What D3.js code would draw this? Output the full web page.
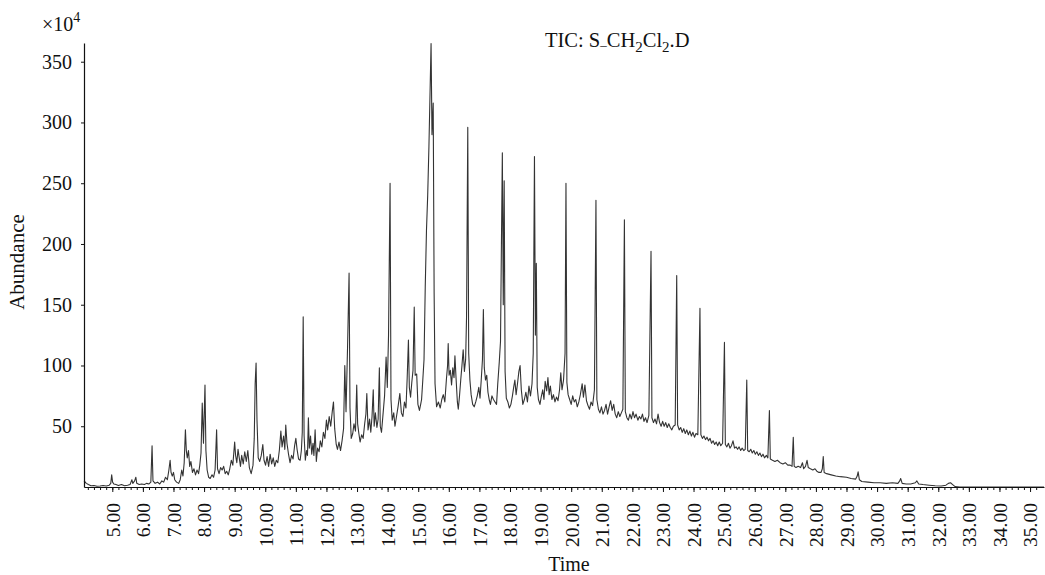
<!DOCTYPE html>
<html>
<head>
<meta charset="utf-8">
<script src="https://cdn.jsdelivr.net/npm/d3@7"></script>
<style>
  html, body { margin: 0; padding: 0; background: #fff; }
  svg { display: block; }
  text { font-family: "Liberation Serif", "Times New Roman", serif; fill: #111; }
</style>
</head>
<body>
<svg id="chart" width="1045" height="575"></svg>
<script>
// Total ion chromatogram: retention time (min) vs. abundance (x10^4 counts)
const timeTicks = [5, 6, 7, 8, 9, 10, 11, 12, 13, 14, 15, 16, 17, 18, 19, 20,
                   21, 22, 23, 24, 25, 26, 27, 28, 29, 30, 31, 32, 33, 34, 35];
const abundanceTicks = [50, 100, 150, 200, 250, 300, 350];
const timeDomain = [4.075, 35.456];
const abundanceDomain = [0, 365.4];

// Trace samples, [retention time, abundance]
const traceEarly = [
  [4.075, 5], [4.1, 4.5], [4.15, 3], [4.22, 2], [4.3, 1], [4.4, 1.2], [4.5, 0.6], [4.6, 0.8],
  [4.7, 1.2], [4.8, 0.8], [4.9, 1.5], [4.95, 3], [4.98, 10], [5.01, 4], [5.05, 2.5], [5.12, 2],
  [5.2, 1.2], [5.3, 2], [5.4, 1], [5.5, 1.4], [5.58, 2], [5.64, 6], [5.67, 3], [5.73, 5],
  [5.77, 8], [5.8, 3], [5.88, 2], [5.96, 2.5], [6.05, 2], [6.12, 3], [6.2, 2.5], [6.26, 4],
  [6.3, 34], [6.33, 5], [6.4, 3], [6.48, 4], [6.55, 2.5], [6.62, 5], [6.68, 4], [6.74, 8],
  [6.8, 6], [6.85, 14], [6.89, 22], [6.92, 12], [6.96, 9], [7.0, 12], [7.04, 6], [7.1, 4],
  [7.17, 3], [7.22, 6], [7.27, 14], [7.31, 9], [7.35, 20], [7.39, 47], [7.42, 30], [7.45, 24],
  [7.49, 30], [7.53, 17], [7.57, 21], [7.62, 12], [7.67, 15], [7.72, 10], [7.77, 14], [7.82, 11],
  [7.86, 18], [7.9, 28], [7.94, 69], [7.98, 36], [8.03, 84], [8.06, 30], [8.1, 14], [8.15, 8],
  [8.2, 7], [8.26, 10], [8.31, 8], [8.36, 14], [8.41, 47], [8.44, 15], [8.49, 11], [8.54, 16],
  [8.59, 14], [8.64, 17], [8.69, 11], [8.74, 13], [8.79, 10], [8.84, 15], [8.89, 22], [8.94, 18],
  [9.0, 37], [9.03, 26], [9.07, 20], [9.11, 31], [9.15, 24], [9.19, 17], [9.23, 26], [9.28, 19],
  [9.33, 29], [9.38, 21], [9.43, 30], [9.48, 16], [9.54, 11], [9.6, 18], [9.64, 40], [9.67, 85],
  [9.70, 102], [9.73, 55], [9.77, 24], [9.82, 21], [9.87, 26], [9.92, 35], [9.96, 22]
];

const traceMid = [
  [10.01, 18], [10.06, 25], [10.11, 17], [10.16, 27], [10.21, 19], [10.26, 24], [10.31, 17],
  [10.36, 22], [10.41, 20], [10.46, 30], [10.51, 46], [10.55, 33], [10.6, 42], [10.64, 31],
  [10.67, 51], [10.71, 36], [10.76, 27], [10.81, 20], [10.86, 26], [10.91, 23], [10.96, 34],
  [11.0, 40], [11.04, 31], [11.09, 23], [11.14, 22], [11.18, 30], [11.21, 45], [11.24, 140],
  [11.27, 42], [11.31, 22], [11.35, 30], [11.38, 26], [11.41, 57], [11.44, 32], [11.48, 42],
  [11.52, 27], [11.56, 36], [11.59, 26], [11.63, 47], [11.67, 21], [11.71, 32], [11.76, 29],
  [11.8, 38], [11.85, 33], [11.9, 45], [11.95, 40], [12.0, 55], [12.04, 47], [12.09, 58],
  [12.14, 50], [12.19, 62], [12.23, 70], [12.27, 48], [12.32, 35], [12.36, 31], [12.41, 37],
  [12.46, 30], [12.51, 38], [12.56, 48], [12.6, 100], [12.64, 62], [12.69, 115], [12.74, 176],
  [12.77, 65], [12.81, 40], [12.86, 44], [12.9, 52], [12.95, 46], [12.99, 84], [13.02, 52],
  [13.06, 44], [13.1, 37], [13.15, 43], [13.2, 40], [13.25, 52], [13.29, 60], [13.32, 77],
  [13.36, 47], [13.41, 56], [13.45, 45], [13.49, 58], [13.53, 80], [13.56, 50], [13.6, 61],
  [13.65, 49], [13.69, 56], [13.73, 98], [13.76, 50], [13.8, 45], [13.85, 60], [13.9, 75],
  [13.95, 107], [13.99, 82], [14.03, 125], [14.08, 250], [14.11, 72], [14.15, 55], [14.2, 61],
  [14.24, 50], [14.29, 58], [14.34, 66], [14.4, 77], [14.45, 61], [14.5, 58], [14.55, 70],
  [14.6, 65], [14.64, 90], [14.68, 121], [14.71, 82], [14.75, 74], [14.79, 86], [14.83, 96],
  [14.87, 148], [14.9, 92], [14.95, 93], [14.99, 68]
];

const traceCentre = [
  [15.04, 63], [15.08, 68], [15.11, 72], [15.15, 88], [15.19, 105], [15.23, 165], [15.27, 211],
  [15.31, 240], [15.35, 280], [15.42, 365], [15.45, 290], [15.49, 316], [15.52, 160], [15.55, 85],
  [15.6, 66], [15.66, 70], [15.72, 65], [15.77, 72], [15.82, 76], [15.87, 70], [15.92, 88],
  [15.96, 100], [15.98, 118], [16.01, 92], [16.05, 96], [16.09, 84], [16.13, 98], [16.17, 90],
  [16.2, 108], [16.24, 88], [16.28, 70], [16.31, 64], [16.35, 75], [16.39, 88], [16.43, 100],
  [16.47, 113], [16.51, 95], [16.55, 105], [16.58, 140], [16.62, 296], [16.65, 110], [16.69, 88],
  [16.73, 76], [16.78, 68], [16.83, 66], [16.88, 70], [16.93, 75], [16.98, 82], [17.02, 73],
  [17.06, 88], [17.1, 105], [17.13, 146], [17.16, 98], [17.2, 88], [17.24, 92], [17.28, 78],
  [17.32, 72], [17.36, 68], [17.41, 75], [17.46, 72], [17.51, 70], [17.56, 68], [17.6, 85],
  [17.65, 103], [17.69, 120], [17.72, 200], [17.75, 275], [17.78, 150], [17.81, 252], [17.84, 95],
  [17.88, 73], [17.93, 70], [17.98, 65], [18.03, 68], [18.08, 75], [18.12, 82], [18.16, 88],
  [18.2, 76], [18.25, 86], [18.29, 95], [18.33, 100], [18.37, 80], [18.42, 68], [18.47, 72],
  [18.52, 78], [18.57, 70], [18.62, 83], [18.67, 75], [18.72, 85], [18.76, 110], [18.8, 272],
  [18.83, 125], [18.86, 184], [18.89, 82], [18.93, 72], [18.98, 68], [19.02, 74], [19.07, 80],
  [19.11, 72], [19.15, 87], [19.2, 79], [19.24, 90], [19.28, 76], [19.32, 83], [19.37, 72],
  [19.42, 76], [19.47, 70], [19.52, 74], [19.57, 71], [19.62, 80], [19.66, 94], [19.7, 80],
  [19.75, 88], [19.8, 110], [19.83, 250], [19.86, 86], [19.9, 76], [19.95, 72]
];

const traceLate = [
  [20.0, 68], [20.05, 75], [20.1, 70], [20.15, 72], [20.2, 66], [20.25, 70], [20.3, 76],
  [20.36, 85], [20.4, 74], [20.45, 84], [20.5, 71], [20.55, 67], [20.6, 64], [20.65, 70],
  [20.7, 67], [20.76, 80], [20.81, 236], [20.84, 72], [20.89, 64], [20.94, 61], [20.99, 66],
  [21.04, 60], [21.09, 63], [21.14, 68], [21.19, 60], [21.24, 66], [21.29, 71], [21.34, 63],
  [21.39, 68], [21.44, 60], [21.49, 57], [21.54, 62], [21.59, 58], [21.64, 61], [21.69, 64],
  [21.74, 220], [21.77, 62], [21.82, 57], [21.87, 55], [21.92, 60], [21.97, 56], [22.02, 62],
  [22.07, 57], [22.12, 60], [22.18, 55], [22.23, 58], [22.28, 56], [22.33, 60], [22.38, 54],
  [22.43, 57], [22.48, 53], [22.54, 59], [22.61, 194], [22.64, 57], [22.69, 53], [22.74, 56],
  [22.79, 52], [22.84, 60], [22.89, 53], [22.94, 50], [22.99, 54], [23.04, 50], [23.09, 53],
  [23.14, 49], [23.19, 52], [23.24, 49], [23.29, 47], [23.34, 50], [23.4, 51], [23.45, 174],
  [23.48, 51], [23.53, 47], [23.58, 49], [23.63, 45], [23.68, 48], [23.73, 44], [23.78, 47],
  [23.83, 43], [23.88, 46], [23.93, 42], [23.98, 45], [24.03, 41], [24.08, 44], [24.14, 43],
  [24.21, 147], [24.24, 43], [24.29, 40], [24.34, 42], [24.39, 39], [24.44, 41], [24.49, 38],
  [24.54, 40], [24.59, 36], [24.64, 38], [24.69, 35], [24.74, 37], [24.79, 34], [24.84, 37],
  [24.89, 34], [24.95, 36], [25.01, 119], [25.04, 35], [25.09, 33], [25.14, 36], [25.19, 32],
  [25.24, 34], [25.29, 38], [25.34, 32], [25.39, 33], [25.44, 31], [25.49, 33], [25.54, 30],
  [25.59, 32], [25.64, 30], [25.69, 31], [25.74, 88], [25.77, 30], [25.82, 29], [25.87, 31],
  [25.92, 28], [25.97, 30], [26.02, 27], [26.07, 29], [26.12, 26], [26.17, 28], [26.22, 25],
  [26.27, 27], [26.32, 24], [26.38, 26], [26.43, 24], [26.48, 63], [26.51, 23], [26.58, 22],
  [26.66, 21], [26.74, 22], [26.83, 20], [26.92, 19], [27.0, 20], [27.08, 18], [27.16, 18],
  [27.22, 17], [27.26, 41], [27.29, 17], [27.35, 16], [27.42, 17], [27.5, 16], [27.56, 20],
  [27.6, 15], [27.66, 17], [27.71, 22], [27.75, 16], [27.82, 15], [27.9, 14], [27.97, 15],
  [28.03, 13], [28.1, 12], [28.17, 12], [28.21, 15], [28.24, 25], [28.27, 12], [28.35, 11],
  [28.5, 10], [28.65, 9], [28.8, 8.5], [29.0, 8], [29.15, 7], [29.3, 6.5], [29.35, 9],
  [29.38, 12.5], [29.42, 6], [29.5, 4.5], [29.7, 4], [29.9, 3.5], [30.1, 3.5], [30.3, 3],
  [30.5, 3.5], [30.68, 3], [30.74, 5], [30.77, 7], [30.82, 3], [30.95, 2.5], [31.1, 2.5],
  [31.25, 3.5], [31.3, 5], [31.36, 2.5], [31.5, 2], [31.7, 1.5], [31.9, 1], [32.1, 0.8],
  [32.25, 1.5], [32.33, 3], [32.4, 3.5], [32.47, 2], [32.55, 0.3], [32.7, 0], [35.456, 0]
];

const svg = d3.select("#chart");

const x = d3.scaleLinear().domain(timeDomain).range([84, 1044]);
const y = d3.scaleLinear().domain(abundanceDomain).range([487, 43]);

// Chromatogram trace
const trace = traceEarly.concat(traceMid, traceCentre, traceLate);
const line = d3.line().x(d => x(d[0])).y(d => y(d[1]));
svg.append("path")
  .datum(trace)
  .attr("d", line)
  .attr("fill", "none")
  .attr("stroke", "#333")
  .attr("stroke-width", 1.1)
  .attr("stroke-linejoin", "round");

// Minor time ticks every 0.2 min
const minorTimes = d3.range(21, 177).map(i => +(i / 5).toFixed(1));
svg.append("g")
  .attr("transform", "translate(0,487)")
  .call(d3.axisBottom(x).tickValues(minorTimes).tickSize(3).tickSizeOuter(0).tickFormat(""))
  .call(g => g.select(".domain").remove())
  .call(g => g.selectAll("line").attr("stroke", "#111"));

// Major time axis with rotated labels
const xAxis = svg.append("g")
  .attr("transform", "translate(0,487)")
  .call(d3.axisBottom(x).tickValues(timeTicks).tickSize(5).tickSizeOuter(0)
        .tickFormat(d3.format(".2f")));
xAxis.select(".domain").attr("stroke", "#111").attr("stroke-width", 1.2);
xAxis.selectAll("line").attr("stroke", "#111");
xAxis.selectAll("text")
  .attr("transform", "rotate(-90)")
  .attr("x", -16)
  .attr("y", 0)
  .attr("dy", "0.35em")
  .style("text-anchor", "end")
  .style("font-size", "19.5px")
  .style("font-family", "'Liberation Serif', serif")
  .attr("fill", "#111");

// Abundance axis
const yAxis = svg.append("g")
  .attr("transform", "translate(84,0)")
  .call(d3.axisLeft(y).tickValues(abundanceTicks).tickSize(3).tickPadding(9).tickSizeOuter(0));
yAxis.select(".domain").attr("stroke", "#111").attr("stroke-width", 1.2);
yAxis.selectAll("line").attr("stroke", "#111");
yAxis.selectAll("text")
  .style("font-size", "20px")
  .style("font-family", "'Liberation Serif', serif")
  .attr("fill", "#111");

// Scale multiplier above the axis
const mult = svg.append("text")
  .attr("x", 42)
  .attr("y", 31)
  .style("font-size", "20px");
mult.append("tspan").text("\u00d710");
mult.append("tspan").attr("dy", -9).style("font-size", "14px").text("4");

// Axis titles
svg.append("text")
  .attr("transform", "translate(24,262) rotate(-90)")
  .attr("text-anchor", "middle")
  .style("font-size", "21px")
  .text("Abundance");

svg.append("text")
  .attr("x", 569)
  .attr("y", 571)
  .attr("text-anchor", "middle")
  .style("font-size", "20px")
  .text("Time");

// Data file caption
const cap = svg.append("text")
  .attr("x", 545)
  .attr("y", 47)
  .style("font-size", "20.5px");
cap.append("tspan").text("TIC: S");
cap.append("tspan").attr("dy", -2).style("font-size", "13px").text("_");
cap.append("tspan").attr("dy", 2).text("CH");
cap.append("tspan").attr("dy", 5).style("font-size", "15px").text("2");
cap.append("tspan").attr("dy", -5).text("Cl");
cap.append("tspan").attr("dy", 5).style("font-size", "15px").text("2");
cap.append("tspan").attr("dy", -5).text(".D");
</script>
</body>
</html>
